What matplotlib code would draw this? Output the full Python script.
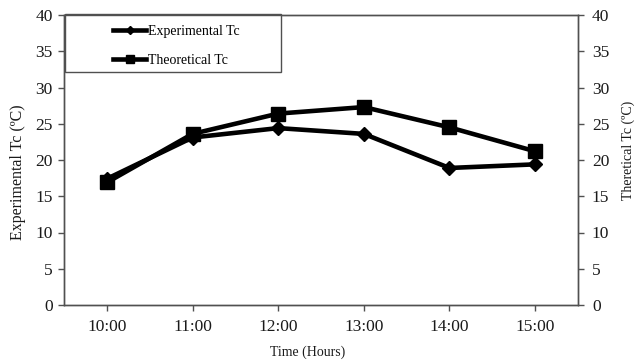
import matplotlib
matplotlib.use("Agg")
import matplotlib.pyplot as plt
from matplotlib.patches import Rectangle

times = ["10:00", "11:00", "12:00", "13:00", "14:00", "15:00"]
experimental_tc = [17.4, 23.1, 24.4, 23.6, 18.9, 19.4]
theoretical_tc = [16.9, 23.6, 26.4, 27.3, 24.5, 21.2]
y_ticks = [0, 5, 10, 15, 20, 25, 30, 35, 40]

plt.rcParams["font.family"] = ["Liberation Serif", "DejaVu Serif"]

W, H = 641, 362
fig = plt.figure(figsize=(W / 100, H / 100), dpi=100)
ax = fig.add_axes([64 / W, 1 - 305 / H, (578 - 64) / W, (305 - 15) / H])
ax2 = ax.twinx()

spine_col = "#505050"
text_col = "#1a1a1a"
x = list(range(len(times)))
ax.plot(x, experimental_tc, color="black", lw=3.3, marker="D", ms=7,
        label="Experimental Tc", zorder=3)
ax.plot(x, theoretical_tc, color="black", lw=3.3, marker="s", ms=9.5,
        label="Theoretical Tc", zorder=4)

for a in (ax, ax2):
    a.set_ylim(0, 40)
    a.set_yticks(y_ticks)
    a.set_xlim(-0.5, len(times) - 0.5)
    for s in a.spines.values():
        s.set_color(spine_col)
        s.set_linewidth(1.0)
    a.tick_params(colors=spine_col, labelcolor=text_col, labelsize=12.5,
                  length=4, width=1)

ax.set_xticks(x)
ax.set_xticklabels(times)
ax.tick_params(axis="x", pad=6)
ax.tick_params(axis="y", pad=4)
ax2.tick_params(axis="y", pad=6)

# axis titles
fig.text(308 / W, 1 - 352 / H, "Time (Hours)", fontsize=10, color=text_col,
         ha="center", va="center")
fig.text(18 / W, 1 - 172 / H, "Experimental Tc (ºC)", fontsize=11.5,
         color=text_col, rotation=90, ha="center", va="center")
fig.text(628 / W, 1 - 150 / H, "Theretical Tc (ºC)", fontsize=10,
         color=text_col, rotation=90, ha="center", va="center")

# legend box in the upper-left corner of the plot area
box = Rectangle((0.002, 0.803), 0.42, 0.2, transform=ax.transAxes,
                facecolor="white", edgecolor=spine_col, lw=1.0, zorder=5,
                clip_on=False)
ax.add_patch(box)
leg = ax.legend(loc="upper left", bbox_to_anchor=(0.0953, 0.967), frameon=False,
                fontsize=10, handlelength=2.4, markerscale=0.55,
                labelspacing=1.18, handletextpad=0.15, borderaxespad=0,
                borderpad=0)
leg.set_zorder(6)

fig.savefig("out.png", dpi=100)
